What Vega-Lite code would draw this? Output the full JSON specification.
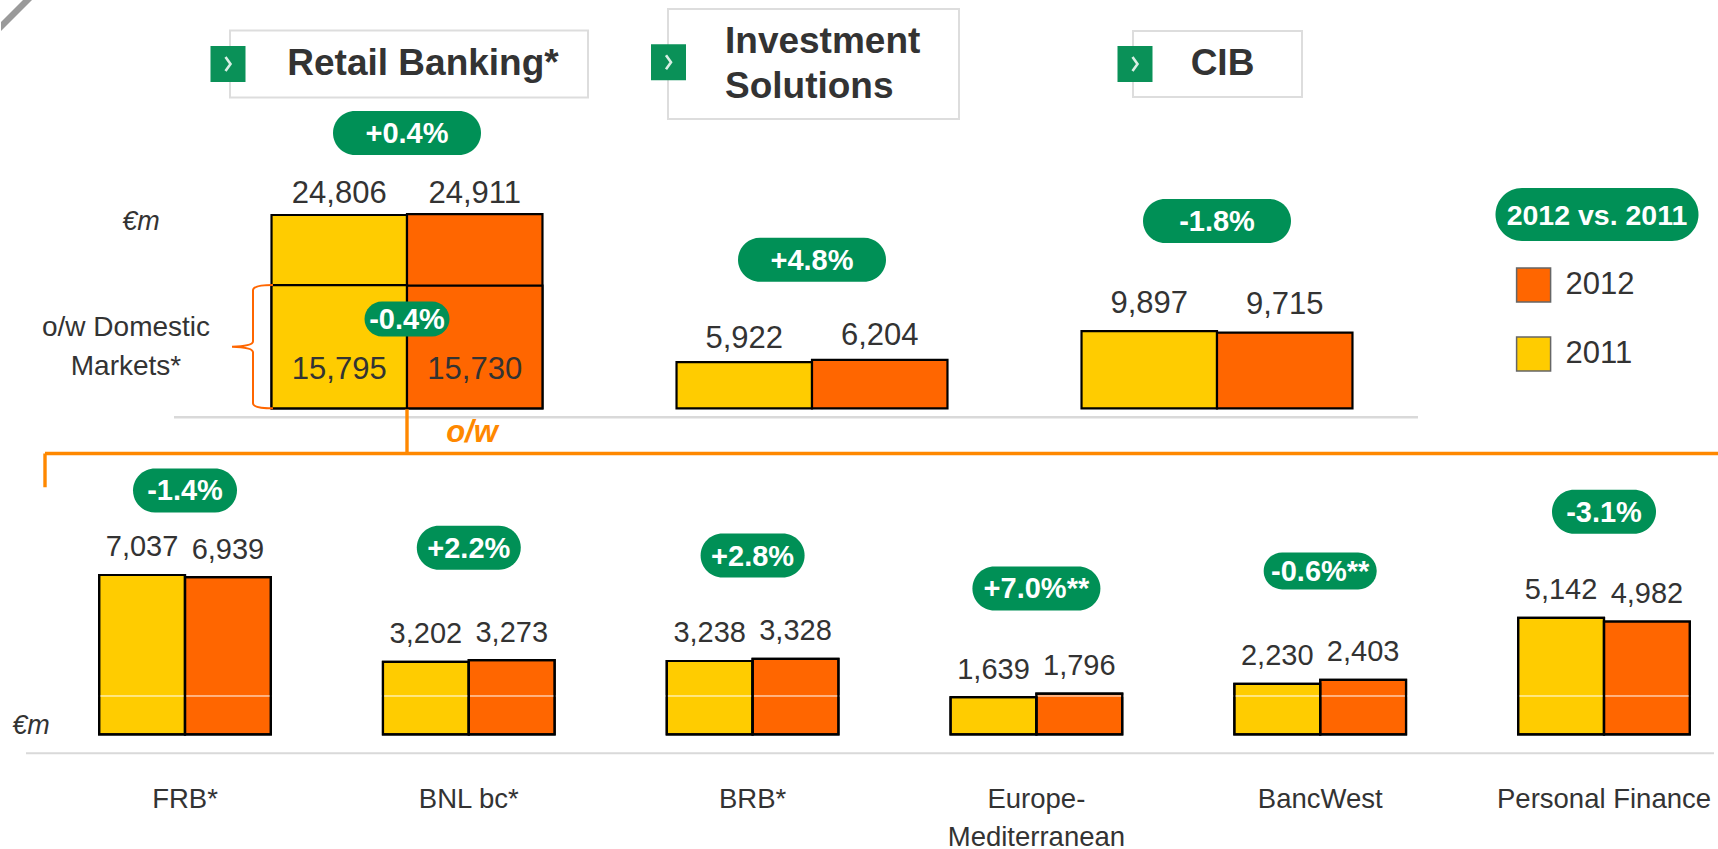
{
"$schema":"https://vega.github.io/schema/vega-lite/v6.json",
"padding":0,"spacing":0,"bounds":"flush","background":"white",
"config":{"view":{"stroke":null},"axisY":{"disable":true},"text":{"font":"Liberation Sans","color":"#333333"}},
"resolve":{"scale":{"color":"independent","y":"independent","x":"independent","xOffset":"independent"},"legend":{"color":"independent"}},
"datasets":{
"segments":[
{"segment":"Retail Banking*","year":"2011","value":24806},{"segment":"Retail Banking*","year":"2012","value":24911},
{"segment":"Investment Solutions","year":"2011","value":5922},{"segment":"Investment Solutions","year":"2012","value":6204},
{"segment":"CIB","year":"2011","value":9897},{"segment":"CIB","year":"2012","value":9715}],
"domestic":[{"segment":"Retail Banking*","year":"2011","value":15795},{"segment":"Retail Banking*","year":"2012","value":15730}],
"businesses":[
{"segment":"FRB*","year":"2011","value":7037},{"segment":"FRB*","year":"2012","value":6939},
{"segment":"BNL bc*","year":"2011","value":3202},{"segment":"BNL bc*","year":"2012","value":3273},
{"segment":"BRB*","year":"2011","value":3238},{"segment":"BRB*","year":"2012","value":3328},
{"segment":"Europe-Mediterranean","year":"2011","value":1639},{"segment":"Europe-Mediterranean","year":"2012","value":1796},
{"segment":"BancWest","year":"2011","value":2230},{"segment":"BancWest","year":"2012","value":2403},
{"segment":"Personal Finance","year":"2011","value":5142},{"segment":"Personal Finance","year":"2012","value":4982}],
"changesTop":[
{"segment":"Retail Banking*","change":"+0.4%","at":35327},{"segment":"Investment Solutions","change":"+4.8%","at":19068},{"segment":"CIB","change":"-1.8%","at":24030}],
"changesBottom":[
{"segment":"FRB*","change":"-1.4%","at":10769},{"segment":"BNL bc*","change":"+2.2%","at":8237},{"segment":"BRB*","change":"+2.8%","at":7897},
{"segment":"Europe-Mediterranean","change":"+7.0%**","at":6444},{"segment":"BancWest","change":"-0.6%**","at":7218},{"segment":"Personal Finance","change":"-3.1%","at":9832}],
"titles":[{"segment":"Retail Banking*","title":"Retail Banking*","at":44180},{"segment":"Investment Solutions","title":"Investment\nSolutions","at":47055},{"segment":"CIB","title":"CIB","at":44180}]
},
"vconcat":[
{"width":1718,"height":459,
"encoding":{
"x":{"field":"segment","type":"nominal","axis":null,"scale":{"domain":["Retail Banking*","Investment Solutions","CIB"],"range":[203.5,1418.5],"paddingInner":0.331,"paddingOuter":0.1655}},
"y":{"field":"value","type":"quantitative","stack":null,"scale":{"domain":[-6506,52393],"nice":false,"zero":false}}},
"layer":[
{"data":{"values":[{"segment":"Retail Banking*","at":50468}]},"mark":{"type":"point","size":4,"filled":true,"opacity":1,"fill":"#9a9a9a","strokeWidth":0,"xOffset":-391,"shape":"M-15,7L7,-15H16L-15,16Z"},"encoding":{"y":{"field":"at","type":"quantitative"}}},
{"data":{"values":[{"segment":"Investment Solutions","at":-1155}]},"mark":{"type":"point","size":4,"filled":false,"opacity":1,"stroke":"#d9d9d9","strokeWidth":2.5,"shape":"M-638,0H606"},"encoding":{"y":{"field":"at","type":"quantitative"}}},
{"data":{"name":"segments"},"mark":{"type":"bar","stroke":"#000000","strokeWidth":2.2},
 "encoding":{"xOffset":{"field":"year","type":"nominal","sort":["2011","2012"]},
 "color":{"field":"year","type":"nominal","scale":{"domain":["2012","2011"],"range":["#FF6600","#FFCC00"]},
 "legend":{"orient":"none","legendX":1514.6,"legendY":267,"title":null,"padding":0,"symbolType":"square","symbolSize":1156,"symbolStrokeColor":"#666666","symbolStrokeWidth":1.5,"labelFont":"Liberation Sans","labelFontSize":31,"labelColor":"#333333","labelOffset":14,"rowPadding":29}}}},
{"data":{"name":"domestic"},"mark":{"type":"bar","stroke":"#000000","strokeWidth":2.2},
 "encoding":{"xOffset":{"field":"year","type":"nominal","sort":["2011","2012"]},"color":{"field":"year","type":"nominal","legend":null}}},
{"data":{"name":"segments"},"transform":[{"filter":"datum.segment=='Retail Banking*'"}],"mark":{"type":"text","fontSize":31,"baseline":"alphabetic","dy":-11.5},"encoding":{"xOffset":{"field":"year","type":"nominal","sort":["2011","2012"]},"text":{"field":"value","type":"quantitative","format":","}}},
{"data":{"name":"segments"},"transform":[{"filter":"datum.segment=='Investment Solutions'"}],"mark":{"type":"text","fontSize":31,"baseline":"alphabetic","dy":-14.5},"encoding":{"xOffset":{"field":"year","type":"nominal","sort":["2011","2012"]},"text":{"field":"value","type":"quantitative","format":","}}},
{"data":{"name":"segments"},"transform":[{"filter":"datum.segment=='CIB'"}],"mark":{"type":"text","fontSize":31,"baseline":"alphabetic","dy":-18.5},"encoding":{"xOffset":{"field":"year","type":"nominal","sort":["2011","2012"]},"text":{"field":"value","type":"quantitative","format":","}}},
{"data":{"name":"domestic"},"mark":{"type":"text","fontSize":31,"baseline":"alphabetic","dy":93.5},"encoding":{"xOffset":{"field":"year","type":"nominal","sort":["2011","2012"]},"text":{"field":"value","type":"quantitative","format":","}}},
{"data":{"values":[{"segment":"Retail Banking*","at":0}]},"mark":{"type":"point","size":4,"filled":false,"opacity":1,"stroke":"#FF6600","strokeWidth":2,"shape":"M-134,-123.3Q-154,-123.3 -154,-118V-67Q-154,-62 -175,-61.6Q-154,-61 -154,-56V-5Q-154,0 -134,0"},"encoding":{"y":{"field":"at","type":"quantitative"}}},
{"data":{"values":[{"segment":"Retail Banking*","at":0}]},"mark":{"type":"point","size":4,"filled":false,"opacity":1,"stroke":"#FF8800","strokeWidth":3.4,"strokeCap":"butt","shape":"M0,1V45.2M-362,45.2H1311M-362,45.2V79"},"encoding":{"y":{"field":"at","type":"quantitative"}}},
{"data":{"values":[{"segment":"Retail Banking*","note":"€m","at":23970}]},"mark":{"type":"text","fontSize":27,"fontStyle":"italic","xOffset":-266},"encoding":{"y":{"field":"at","type":"quantitative"},"text":{"field":"note"}}},
{"data":{"values":[{"segment":"Retail Banking*","note":"o/w Domestic\nMarkets*","at":10304}]},"mark":{"type":"text","fontSize":28,"lineBreak":"\n","lineHeight":39,"xOffset":-281},"encoding":{"y":{"field":"at","type":"quantitative"},"text":{"field":"note"}}},
{"data":{"values":[{"segment":"Retail Banking*","note":"o/w","at":-3170}]},"mark":{"type":"text","fontSize":31,"fontWeight":"bold","fontStyle":"italic","color":"#FF8800","xOffset":65},"encoding":{"y":{"field":"at","type":"quantitative"},"text":{"field":"note"}}},
{"data":{"values":[{"segment":"Retail Banking*","at":44180}]},"mark":{"type":"point","size":4,"filled":false,"opacity":1,"stroke":"#dddddd","strokeWidth":2,"shape":"M-177,-33.5H181V33.5H-177Z"},"encoding":{"y":{"field":"at","type":"quantitative"}}},
{"data":{"values":[{"segment":"Investment Solutions","at":44180}]},"mark":{"type":"point","size":4,"filled":false,"opacity":1,"stroke":"#dddddd","strokeWidth":2,"shape":"M-144,-55H147V55H-144Z"},"encoding":{"y":{"field":"at","type":"quantitative"}}},
{"data":{"values":[{"segment":"CIB","at":44180}]},"mark":{"type":"point","size":4,"filled":false,"opacity":1,"stroke":"#dddddd","strokeWidth":2,"shape":"M-84,-33H85V33H-84Z"},"encoding":{"y":{"field":"at","type":"quantitative"}}},
{"data":{"name":"titles"},"transform":[{"filter":"datum.segment=='Retail Banking*'"}],"mark":{"type":"text","fontSize":37,"fontWeight":"bold","xOffset":16},"encoding":{"y":{"field":"at","type":"quantitative"},"text":{"field":"title"}}},
{"data":{"name":"titles"},"transform":[{"filter":"datum.segment=='Investment Solutions'"}],"mark":{"type":"text","fontSize":37,"fontWeight":"bold","align":"left","lineBreak":"\n","lineHeight":45,"xOffset":-87},"encoding":{"y":{"field":"at","type":"quantitative"},"text":{"field":"title"}}},
{"data":{"name":"titles"},"transform":[{"filter":"datum.segment=='CIB'"}],"mark":{"type":"text","fontSize":37,"fontWeight":"bold","xOffset":5.5},"encoding":{"y":{"field":"at","type":"quantitative"},"text":{"field":"title"}}},
{"data":{"values":[{"segment":"Retail Banking*","at":44180}]},"mark":{"type":"point","size":4,"filled":true,"opacity":1,"fill":"#0A9158","strokeWidth":0,"xOffset":-179,"shape":"M-17.5,-18H17.5V18H-17.5Z"},"encoding":{"y":{"field":"at","type":"quantitative"}}},
{"data":{"values":[{"segment":"Investment Solutions","at":44400}]},"mark":{"type":"point","size":4,"filled":true,"opacity":1,"fill":"#0A9158","strokeWidth":0,"xOffset":-143.5,"shape":"M-17.5,-18H17.5V18H-17.5Z"},"encoding":{"y":{"field":"at","type":"quantitative"}}},
{"data":{"values":[{"segment":"CIB","at":44180}]},"mark":{"type":"point","size":4,"filled":true,"opacity":1,"fill":"#0A9158","strokeWidth":0,"xOffset":-82,"shape":"M-17.5,-18H17.5V18H-17.5Z"},"encoding":{"y":{"field":"at","type":"quantitative"}}},
{"data":{"values":[{"segment":"Retail Banking*","at":44180}]},"mark":{"type":"point","size":4,"filled":false,"opacity":1,"stroke":"#d8efe4","strokeWidth":2.6,"xOffset":-179,"shape":"M-2.5,-7L2.5,0L-2.5,7"},"encoding":{"y":{"field":"at","type":"quantitative"}}},
{"data":{"values":[{"segment":"Investment Solutions","at":44400}]},"mark":{"type":"point","size":4,"filled":false,"opacity":1,"stroke":"#d8efe4","strokeWidth":2.6,"xOffset":-143.5,"shape":"M-2.5,-7L2.5,0L-2.5,7"},"encoding":{"y":{"field":"at","type":"quantitative"}}},
{"data":{"values":[{"segment":"CIB","at":44180}]},"mark":{"type":"point","size":4,"filled":false,"opacity":1,"stroke":"#d8efe4","strokeWidth":2.6,"xOffset":-82,"shape":"M-2.5,-7L2.5,0L-2.5,7"},"encoding":{"y":{"field":"at","type":"quantitative"}}},
{"data":{"name":"changesTop"},"mark":{"type":"point","size":4,"filled":true,"opacity":1,"fill":"#009056","strokeWidth":0,"shape":"M-52,-22H52A22,22 0 0 1 52,22H-52A22,22 0 0 1 -52,-22Z"},"encoding":{"y":{"field":"at","type":"quantitative"}}},
{"data":{"name":"changesTop"},"mark":{"type":"text","fontSize":29,"fontWeight":"bold","color":"#ffffff","dy":1},"encoding":{"y":{"field":"at","type":"quantitative"},"text":{"field":"change"}}},
{"data":{"values":[{"segment":"Retail Banking*","change":"-0.4%","at":11459}]},"mark":{"type":"point","size":4,"filled":true,"opacity":1,"fill":"#009056","strokeWidth":0,"shape":"M-25,-17.5H25A17.5,17.5 0 0 1 25,17.5H-25A17.5,17.5 0 0 1 -25,-17.5Z"},"encoding":{"y":{"field":"at","type":"quantitative"}}},
{"data":{"values":[{"segment":"Retail Banking*","change":"-0.4%","at":11459}]},"mark":{"type":"text","fontSize":29,"fontWeight":"bold","color":"#ffffff","dy":1},"encoding":{"y":{"field":"at","type":"quantitative"},"text":{"field":"change"}}},
{"data":{"values":[{"segment":"CIB","change":"2012 vs. 2011","at":24868}]},"mark":{"type":"point","size":4,"filled":true,"opacity":1,"fill":"#009056","strokeWidth":0,"xOffset":380,"shape":"M-75,-26.5H75A26.5,26.5 0 0 1 75,26.5H-75A26.5,26.5 0 0 1 -75,-26.5Z"},"encoding":{"y":{"field":"at","type":"quantitative"}}},
{"data":{"values":[{"segment":"CIB","change":"2012 vs. 2011","at":24868}]},"mark":{"type":"text","fontSize":28.5,"fontWeight":"bold","color":"#ffffff","dy":1,"xOffset":380},"encoding":{"y":{"field":"at","type":"quantitative"},"text":{"field":"change"}}}
]},
{"width":1718,"height":294.3,
"encoding":{
"x":{"field":"segment","type":"nominal","sort":null,"scale":{"domain":["FRB*","BNL bc*","BRB*","Europe-Mediterranean","BancWest","Personal Finance"],"range":[42.1,1744.9],"paddingInner":0.395,"paddingOuter":0.1975},
 "axis":{"title":null,"domain":false,"ticks":false,"grid":false,"labelAngle":0,"labelFont":"Liberation Sans","labelFontSize":27.5,"labelColor":"#333333","labelPadding":32,"labelBaseline":"top","labelLimit":400,"labelOverlap":false,"labelLineHeight":38,"labelExpr":"datum.label=='Europe-Mediterranean' ? ['Europe-','Mediterranean'] : datum.label"}},
"y":{"field":"value","type":"quantitative","stack":null,"scale":{"domain":[-839,12160],"nice":false,"zero":false}}},
"layer":[
{"data":{"values":[{"segment":"FRB*","at":-839}]},"mark":{"type":"point","size":4,"filled":false,"opacity":1,"stroke":"#d9d9d9","strokeWidth":2,"shape":"M-159,0H1529"},"encoding":{"y":{"field":"at","type":"quantitative"}}},
{"data":{"name":"businesses"},"mark":{"type":"bar","stroke":"#000000","strokeWidth":2.2},
 "encoding":{"xOffset":{"field":"year","type":"nominal","sort":["2011","2012"]},"color":{"field":"year","type":"nominal","scale":{"domain":["2012","2011"],"range":["#FF6600","#FFCC00"]},"legend":null}}},
{"data":{"values":[{"at":1692}]},"mark":{"type":"rule","color":"#ffffff","strokeWidth":1},"encoding":{"x":{"value":0},"x2":{"value":1718},"y":{"field":"at","type":"quantitative"}}},
{"data":{"name":"businesses"},"mark":{"type":"bar","stroke":"#000000","strokeWidth":2.2,"fillOpacity":0},
 "encoding":{"xOffset":{"field":"year","type":"nominal","sort":["2011","2012"]}}},
{"data":{"name":"businesses"},"mark":{"type":"text","fontSize":29,"baseline":"alphabetic","dy":-18.5},"encoding":{"xOffset":{"field":"year","type":"nominal","sort":["2011","2012"]},"text":{"field":"value","type":"quantitative","format":","}}},
{"data":{"values":[{"segment":"FRB*","note":"€m","at":380}]},"mark":{"type":"text","fontSize":27,"fontStyle":"italic","xOffset":-154},"encoding":{"y":{"field":"at","type":"quantitative"},"text":{"field":"note"}}},
{"data":{"name":"changesBottom"},"transform":[{"filter":"indexof(datum.change,'**')<0"}],"mark":{"type":"point","size":4,"filled":true,"opacity":1,"fill":"#009056","strokeWidth":0,"shape":"M-30,-22H30A22,22 0 0 1 30,22H-30A22,22 0 0 1 -30,-22Z"},"encoding":{"y":{"field":"at","type":"quantitative"}}},
{"data":{"name":"changesBottom"},"transform":[{"filter":"datum.change=='+7.0%**'"}],"mark":{"type":"point","size":4,"filled":true,"opacity":1,"fill":"#009056","strokeWidth":0,"shape":"M-42,-22H42A22,22 0 0 1 42,22H-42A22,22 0 0 1 -42,-22Z"},"encoding":{"y":{"field":"at","type":"quantitative"}}},
{"data":{"name":"changesBottom"},"transform":[{"filter":"datum.change=='-0.6%**'"}],"mark":{"type":"point","size":4,"filled":true,"opacity":1,"fill":"#009056","strokeWidth":0,"shape":"M-38,-18.5H38A18.5,18.5 0 0 1 38,18.5H-38A18.5,18.5 0 0 1 -38,-18.5Z"},"encoding":{"y":{"field":"at","type":"quantitative"}}},
{"data":{"name":"changesBottom"},"mark":{"type":"text","fontSize":29,"fontWeight":"bold","color":"#ffffff","dy":1},"encoding":{"y":{"field":"at","type":"quantitative"},"text":{"field":"change"}}}
]}
]}
